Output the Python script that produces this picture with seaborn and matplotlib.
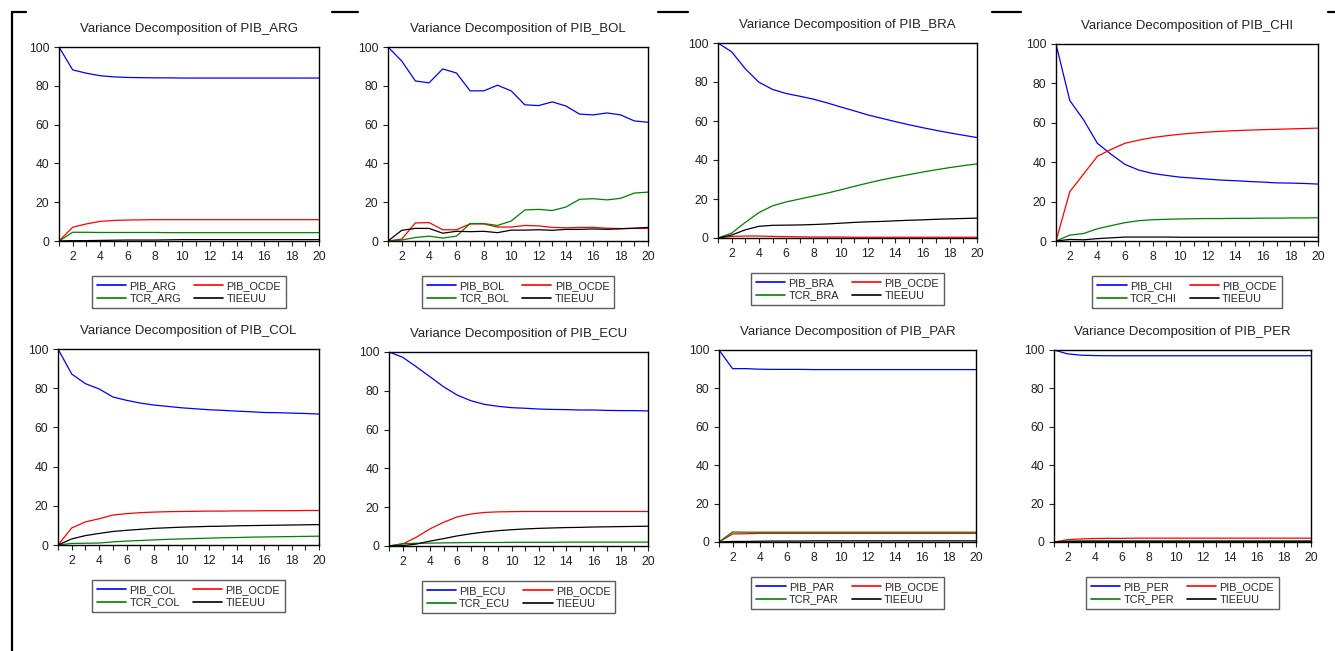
import matplotlib
matplotlib.use("Agg")
import matplotlib.pyplot as plt
import numpy as np
import pandas as pd
import seaborn as sns
from matplotlib.lines import Line2D
from matplotlib.ticker import MultipleLocator, FixedLocator

# ---------------- data ----------------
periods = list(range(1, 21))
countries = ["ARG", "BOL", "BRA", "CHI", "COL", "ECU", "PAR", "PER"]

# ARG
pib_arg      = [100, 88.2, 86.5, 85.2, 84.6, 84.3, 84.2, 84.1, 84.1, 84.0, 84.0, 84.0, 84.0, 84.0, 84.0, 84.0, 84.0, 84.0, 84.0, 84.0]
ocde_arg     = [0, 7.1, 8.8, 10.1, 10.6, 10.8, 10.9, 11.0, 11.0, 11.0, 11.0, 11.0, 11.0, 11.0, 11.0, 11.0, 11.0, 11.0, 11.0, 11.0]
tcr_arg      = [0, 4.5, 4.5, 4.4, 4.4, 4.4, 4.4, 4.4, 4.3, 4.3, 4.3, 4.3, 4.3, 4.3, 4.3, 4.3, 4.3, 4.3, 4.3, 4.3]
tie_arg      = [0, 0.2, 0.2, 0.3, 0.4, 0.5, 0.5, 0.5, 0.6, 0.7, 0.7, 0.7, 0.7, 0.7, 0.7, 0.7, 0.7, 0.7, 0.7, 0.7]
# BOL
pib_bol      = [100, 92.8, 82.5, 81.5, 88.7, 86.6, 77.4, 77.4, 80.3, 77.4, 70.2, 69.8, 71.7, 69.6, 65.4, 65.0, 66.0, 65.0, 61.9, 61.2]
ocde_bol     = [0, 1.0, 9.3, 9.5, 5.8, 5.8, 8.8, 8.8, 7.2, 7.2, 8.0, 7.8, 7.0, 6.8, 7.0, 7.0, 6.6, 6.4, 6.5, 6.5]
tcr_bol      = [0, 0.5, 1.8, 2.5, 1.5, 2.5, 9.0, 9.0, 8.0, 10.3, 16.0, 16.3, 15.7, 17.5, 21.5, 21.8, 21.2, 22.0, 24.7, 25.2]
tie_bol      = [0, 5.5, 6.5, 6.5, 4.0, 5.0, 4.8, 5.0, 4.3, 5.6, 5.6, 5.8, 5.5, 6.0, 6.0, 6.2, 6.0, 6.3, 6.6, 7.0]
# BRA
pib_bra      = [100, 95.5, 86.8, 79.9, 76.2, 74.1, 72.7, 71.2, 69.3, 67.2, 65.2, 63.1, 61.4, 59.7, 58.1, 56.6, 55.2, 53.9, 52.7, 51.5]
ocde_bra     = [0, 0.8, 1.0, 1.0, 0.8, 0.7, 0.6, 0.5, 0.5, 0.5, 0.4, 0.4, 0.4, 0.4, 0.4, 0.4, 0.4, 0.4, 0.4, 0.4]
tcr_bra      = [0, 2.5, 8.0, 13.0, 16.5, 18.5, 20.0, 21.5, 23.0, 24.7, 26.5, 28.2, 29.8, 31.2, 32.5, 33.8, 35.0, 36.1, 37.1, 38.0]
tie_bra      = [0, 1.5, 4.2, 6.0, 6.5, 6.6, 6.7, 6.9, 7.2, 7.6, 8.0, 8.3, 8.5, 8.8, 9.1, 9.3, 9.6, 9.8, 10.0, 10.2]
# CHI
pib_chi      = [100, 71.3, 61.5, 49.6, 44.0, 38.9, 36.0, 34.3, 33.3, 32.4, 31.9, 31.4, 30.9, 30.6, 30.2, 29.9, 29.5, 29.4, 29.2, 28.9]
ocde_chi     = [0, 25.0, 34.0, 43.0, 46.5, 49.6, 51.2, 52.5, 53.4, 54.2, 54.8, 55.3, 55.7, 56.0, 56.3, 56.5, 56.7, 56.9, 57.1, 57.3]
tcr_chi      = [0, 3.0, 3.8, 6.2, 7.8, 9.3, 10.3, 10.8, 11.0, 11.2, 11.3, 11.4, 11.4, 11.5, 11.5, 11.6, 11.6, 11.7, 11.7, 11.8]
tie_chi      = [0, 0.8, 0.6, 1.2, 1.6, 2.0, 2.0, 2.0, 2.0, 1.9, 1.9, 1.9, 1.9, 1.9, 1.9, 1.9, 1.9, 1.9, 1.9, 1.9]
# COL
pib_col      = [100, 87.2, 82.3, 79.6, 75.5, 73.8, 72.4, 71.4, 70.7, 70.0, 69.5, 69.0, 68.7, 68.3, 68.0, 67.6, 67.5, 67.3, 67.1, 66.8]
ocde_col     = [0, 8.7, 11.8, 13.4, 15.3, 16.0, 16.5, 16.8, 17.0, 17.1, 17.2, 17.3, 17.3, 17.4, 17.4, 17.5, 17.5, 17.5, 17.6, 17.6]
tcr_col      = [0, 0.8, 0.9, 1.0, 1.6, 2.0, 2.3, 2.6, 2.9, 3.1, 3.3, 3.5, 3.7, 3.8, 4.0, 4.1, 4.2, 4.3, 4.4, 4.5]
tie_col      = [0, 3.1, 4.8, 5.9, 6.9, 7.5, 8.0, 8.5, 8.8, 9.1, 9.3, 9.5, 9.6, 9.8, 9.9, 10.0, 10.1, 10.2, 10.3, 10.4]
# ECU
pib_ecu      = [100, 97.3, 92.4, 87.3, 82.1, 77.8, 74.9, 73.0, 72.0, 71.3, 71.0, 70.6, 70.4, 70.3, 70.1, 70.1, 69.9, 69.8, 69.8, 69.6]
ocde_ecu     = [0, 1.0, 4.5, 8.8, 12.2, 15.0, 16.5, 17.3, 17.6, 17.7, 17.8, 17.8, 17.8, 17.8, 17.8, 17.8, 17.8, 17.8, 17.8, 17.8]
tcr_ecu      = [0, 1.2, 1.4, 1.5, 1.6, 1.7, 1.8, 1.8, 1.8, 1.9, 1.9, 1.9, 1.9, 2.0, 2.0, 2.0, 2.0, 2.0, 2.0, 2.0]
tie_ecu      = [0, 0.2, 1.0, 2.5, 3.8, 5.2, 6.3, 7.2, 7.9, 8.4, 8.8, 9.1, 9.3, 9.5, 9.6, 9.8, 9.9, 10.0, 10.1, 10.2]
# PAR
pib_par      = [100, 90.3, 90.3, 90.0, 89.9, 89.9, 89.9, 89.8, 89.8, 89.8, 89.8, 89.8, 89.8, 89.8, 89.8, 89.8, 89.8, 89.8, 89.8, 89.8]
ocde_par     = [0, 4.2, 4.3, 4.5, 4.5, 4.5, 4.5, 4.5, 4.5, 4.5, 4.5, 4.5, 4.5, 4.5, 4.5, 4.5, 4.5, 4.5, 4.5, 4.5]
tcr_par      = [0, 5.2, 5.1, 5.1, 5.1, 5.1, 5.1, 5.1, 5.1, 5.1, 5.1, 5.1, 5.1, 5.1, 5.1, 5.1, 5.1, 5.1, 5.1, 5.1]
tie_par      = [0, 0.3, 0.3, 0.4, 0.5, 0.5, 0.5, 0.6, 0.6, 0.6, 0.6, 0.6, 0.6, 0.6, 0.6, 0.6, 0.6, 0.6, 0.6, 0.6]
# PER
pib_per      = [100, 98.0, 97.3, 97.1, 97.0, 97.0, 97.0, 97.0, 97.0, 97.0, 97.0, 97.0, 97.0, 97.0, 97.0, 97.0, 97.0, 97.0, 97.0, 97.0]
ocde_per     = [0, 1.2, 1.6, 1.8, 1.9, 1.9, 2.0, 2.0, 2.0, 2.0, 2.0, 2.0, 2.0, 2.0, 2.0, 2.0, 2.0, 2.0, 2.0, 2.0]
tcr_per      = [0, 0.4, 0.5, 0.5, 0.5, 0.5, 0.5, 0.5, 0.5, 0.5, 0.5, 0.5, 0.5, 0.5, 0.5, 0.5, 0.5, 0.5, 0.5, 0.5]
tie_per      = [0, 0.3, 0.4, 0.4, 0.4, 0.4, 0.4, 0.4, 0.4, 0.4, 0.4, 0.4, 0.4, 0.4, 0.4, 0.4, 0.4, 0.4, 0.4, 0.4]

series_data = {
    "ARG": (pib_arg, ocde_arg, tcr_arg, tie_arg),
    "BOL": (pib_bol, ocde_bol, tcr_bol, tie_bol),
    "BRA": (pib_bra, ocde_bra, tcr_bra, tie_bra),
    "CHI": (pib_chi, ocde_chi, tcr_chi, tie_chi),
    "COL": (pib_col, ocde_col, tcr_col, tie_col),
    "ECU": (pib_ecu, ocde_ecu, tcr_ecu, tie_ecu),
    "PAR": (pib_par, ocde_par, tcr_par, tie_par),
    "PER": (pib_per, ocde_per, tcr_per, tie_per),
}

# ---------------- style ----------------
sns.set_style("white")
plt.rcParams["font.family"] = ["Liberation Sans", "DejaVu Sans"]

W, H = 1335, 651
fig = plt.figure(figsize=(W / 100, H / 100), dpi=100)
fig.patch.set_facecolor("white")

# axes boxes in pixels: left, right, top, bottom
boxes = {
    "ARG": (59, 319, 47, 241),
    "BOL": (388, 648, 47, 241),
    "BRA": (718, 977, 43, 238),
    "CHI": (1056, 1318, 44, 241),
    "COL": (58, 319, 349, 545),
    "ECU": (389, 648, 352, 546),
    "PAR": (719, 976, 350, 542),
    "PER": (1054, 1311, 350, 542),
}

colors = ["#0000FF", "#FF0000", "#008000", "#000000"]

for c in countries:
    l, r, t, b = boxes[c]
    ax = fig.add_axes([l / W, 1 - b / H, (r - l) / W, (b - t) / H])
    names = [f"PIB_{c}", "PIB_OCDE", f"TCR_{c}", "TIEEUU"]
    vals = series_data[c]
    df = pd.DataFrame({
        "Period": periods * 4,
        "Share": [v for s in vals for v in s],
        "Series": [n for n in names for _ in periods],
    })
    sns.lineplot(data=df, x="Period", y="Share", hue="Series", hue_order=names,
                 palette=colors, linewidth=0.9, ax=ax, legend="auto")
    handles, labels = ax.get_legend_handles_labels()
    hmap = dict(zip(labels, handles))
    order = [names[0], names[2], names[1], names[3]]
    leg = ax.legend([hmap[n] for n in order], order, ncol=2, loc="upper center",
                    bbox_to_anchor=(0.5, -35 / (b - t)), frameon=True, fancybox=False,
                    fontsize=7.8, handlelength=2.7, handletextpad=0.3, columnspacing=1.2,
                    labelspacing=0.25, borderpad=0.45, borderaxespad=0.0)
    leg.get_frame().set_edgecolor("#333333")
    leg.get_frame().set_linewidth(1.0)
    for lh in leg.get_lines():
        lh.set_linewidth(1.2)

    ax.set_xlim(1, 20)
    ax.set_ylim(0, 100)
    ax.set_xlabel("")
    ax.set_ylabel("")
    ax.xaxis.set_major_locator(FixedLocator(list(range(2, 21, 2))))
    ax.xaxis.set_minor_locator(MultipleLocator(1))
    ax.yaxis.set_major_locator(FixedLocator([0, 20, 40, 60, 80, 100]))
    ax.tick_params(axis="both", which="both", direction="out", labelsize=8.7,
                   colors="#222222", width=0.8)
    ax.tick_params(axis="x", which="both", length=3.5, bottom=True)
    ax.tick_params(axis="y", which="major", length=3.5, left=True)
    for sp in ax.spines.values():
        sp.set_visible(True)
        sp.set_color("black")
        sp.set_linewidth(1.0)
    ax.set_title(f"Variance Decomposition of PIB_{c}", fontsize=9.5, pad=11, color="#222222")

# figure border pieces
def fline(x0, y0, x1, y1):
    fig.add_artist(Line2D([x0 / W, x1 / W], [1 - y0 / H, 1 - y1 / H],
                          transform=fig.transFigure, color="black", linewidth=1.6))

fline(12, 12, 12, 651)
for x0, x1 in [(12, 26), (332, 358), (658, 688), (992, 1021), (1328, 1335)]:
    fline(x0, 12, x1, 12)

fig.savefig("out.png", dpi=100, facecolor="white")
